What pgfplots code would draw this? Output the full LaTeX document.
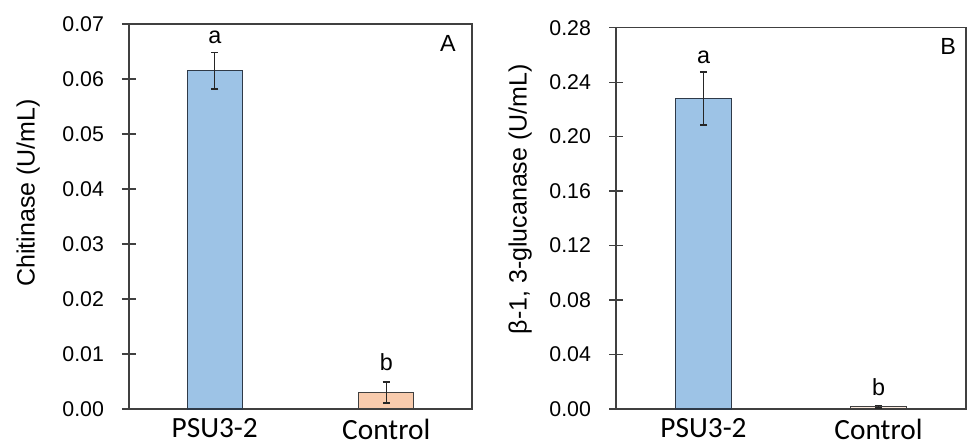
\documentclass[border=0pt]{standalone}
\usepackage{fontspec}
\setmainfont{Liberation Sans}
\newfontfamily\calibri{Carlito}
\usepackage{pgfplots}
\pgfplotsset{compat=1.18}

\definecolor{barblue}{HTML}{9DC3E6}
\definecolor{barorange}{HTML}{F8CBAD}
\definecolor{edgedark}{HTML}{2F3A48}
\definecolor{axisgray}{HTML}{404040}

\tikzset{letter/.style={font=\fontsize{17.5}{19}\selectfont}}

\pgfplotsset{
  panel/.style={
    scale only axis,
    clip=false,
    ybar, bar shift=0pt,
    xmin=-0.5, xmax=1.5, ymin=0,
    xtick={0,1}, xticklabels={PSU3-2,Control},
    xtick pos=bottom, xtick style={draw=none},
    ytick pos=left, tick align=center, major tick length=10.5pt,
    axis line style={color=axisgray, line width=0.9pt},
    ytick style={color=axisgray, line width=0.9pt},
    x tick label style={font=\calibri\fontsize{22}{24}\selectfont, yshift=1.5pt},
    y tick label style={font=\fontsize{16}{18}\selectfont, xshift=-10pt},
    scaled y ticks=false,
    /pgf/number format/fixed,
    /pgf/number format/fixed zerofill,
    /pgf/number format/precision=2,
    /pgf/number format/assume math mode=true,
    ylabel style={font=\fontsize{18.75}{20}\selectfont, anchor=center},
    error bars/y dir=both, error bars/y explicit,
    error bars/error bar style={line width=0.9pt, color=black!85},
    error bars/error mark options={rotate=90, mark size=2.75pt, line width=0.9pt, color=black!85},
  },
}

\begin{document}
\begin{tikzpicture}
\useasboundingbox (0,0) rectangle (728.25pt,335.25pt);

% panel A: chitinase
\begin{axis}[panel,
  at={(96.75pt,28.5pt)}, anchor=south west,
  width=257.25pt, height=288.75pt,
  ymax=0.07, ytick={0,0.01,...,0.07},
  bar width=41.25pt,
  ylabel={Chitinase (U/mL)},
  ylabel style={at={(axis description cs:-0.294,0.561)}},
]
\addplot[fill=barblue, draw=edgedark, line width=0.8pt]
  coordinates {(0,0.0615) +- (0,0.0033)};
\addplot[fill=barorange, draw=axisgray, line width=0.8pt]
  coordinates {(1,0.0030) +- (0,0.0019)};
\node[letter] at (axis cs:0,0.0675) {a};
\node[letter] at (axis cs:1,0.00855) {b};
\node[letter] at (rel axis cs:0.93,0.95) {A};
\end{axis}

% panel B: beta-1,3-glucanase
\begin{axis}[panel,
  at={(462pt,28.5pt)}, anchor=south west,
  width=262.5pt, height=286pt,
  ymax=0.28, ytick={0,0.04,...,0.28},
  bar width=42pt,
  ylabel={β-1, 3-glucanase (U/mL)},
  ylabel style={at={(axis description cs:-0.274,0.55)}},
]
\addplot[fill=barblue, draw=edgedark, line width=0.8pt]
  coordinates {(0,0.228) +- (0,0.0195)};
\addplot[fill=barorange!40, draw=axisgray, line width=0.8pt]
  coordinates {(1,0.0017) +- (0,0.0010)};
\node[letter] at (axis cs:0,0.258) {a};
\node[letter] at (axis cs:1,0.0164) {b};
\node[letter] at (rel axis cs:0.949,0.95) {B};
\end{axis}
\end{tikzpicture}
\end{document}
